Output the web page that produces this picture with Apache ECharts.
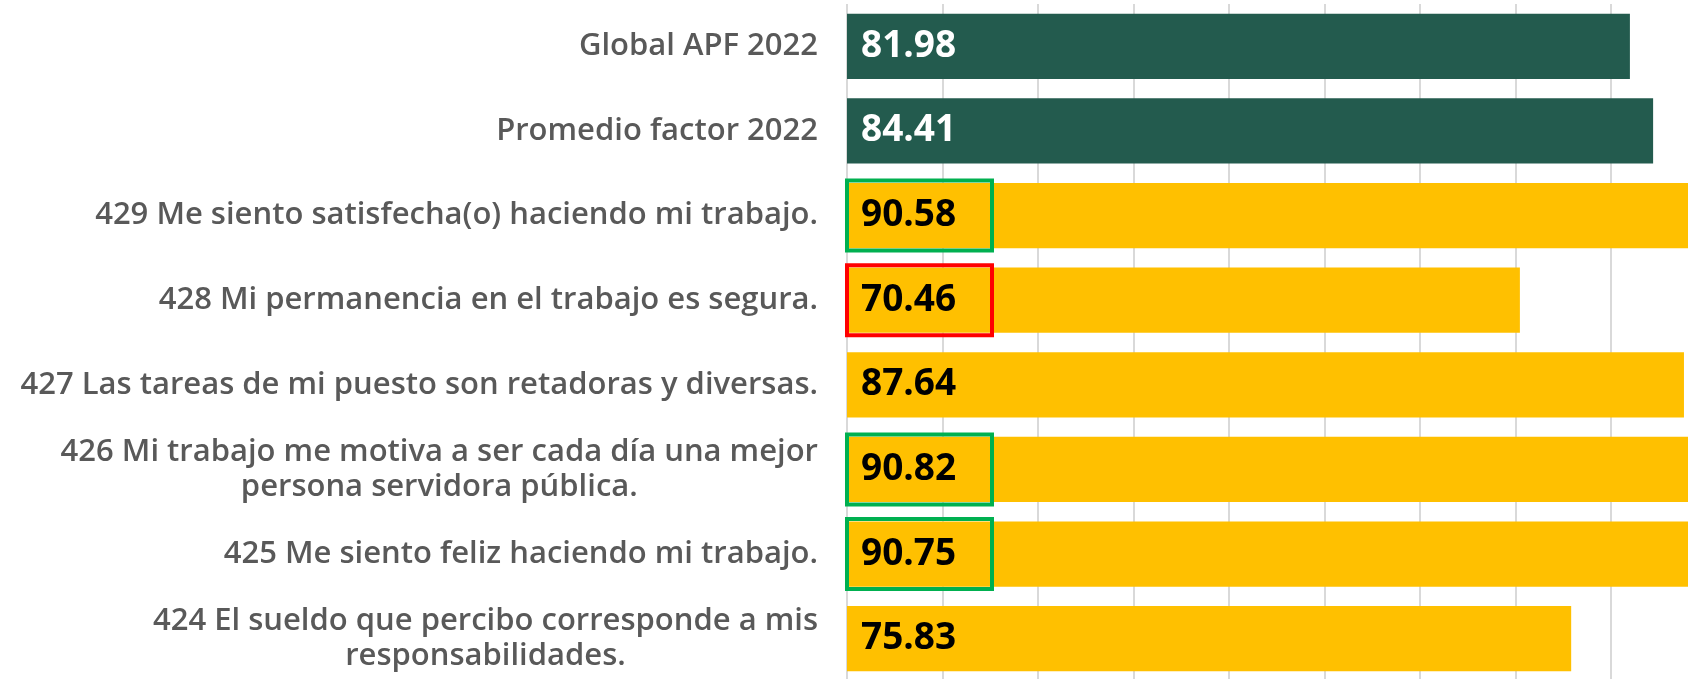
<!DOCTYPE html>
<html>
<head>
<meta charset="utf-8">
<script src="https://cdn.jsdelivr.net/npm/echarts@6/dist/echarts.min.js"></script>
<style>
  html, body { margin: 0; padding: 0; background: #ffffff; }
  #chart { width: 1688px; height: 679px; }
</style>
</head>
<body>
<div id="chart"></div>
<script>
// reactivos, de arriba hacia abajo
var categories = [
    'Global APF 2022',
    'Promedio factor 2022',
    '429 Me siento satisfecha(o) haciendo mi trabajo.',
    '428 Mi permanencia en el trabajo es segura.',
    '427 Las tareas de mi puesto son retadoras y diversas.',
    '426 Mi trabajo me motiva a ser cada día una mejor\npersona servidora pública.',
    '425 Me siento feliz haciendo mi trabajo.',
    '424 El sueldo que percibo corresponde a mis\nresponsabilidades.'
];
var values = [81.98, 84.41, 90.58, 70.46, 87.64, 90.82, 90.75, 75.83];
// tipo de barra: referencia o reactivo
var groups = ['ref', 'ref', 'item', 'item', 'item', 'item', 'item', 'item'];
// resultado destacado: alto / bajo / ninguno
var marks = ['', '', 'alto', 'bajo', '', 'alto', 'alto', ''];

var myChart = echarts.init(document.getElementById('chart'));

var barColor = { ref: '#235B4E', item: '#FFC000' };
var textColor = { ref: '#ffffff', item: '#000000' };
var markColor = { alto: '#00B050', bajo: '#FF0000' };

var seriesData = values.map(function (v, i) {
    var g = groups[i];
    return {
        value: v,
        itemStyle: { color: barColor[g] },
        label: {
            color: textColor[g],
            borderColor: marks[i] ? markColor[marks[i]] : 'transparent',
            borderWidth: marks[i] ? 4 : 0
        }
    };
});

var option = {
    animation: false,
    grid: {
        left: 847,
        width: 955,  // el eje llega a 100, fuera del lienzo
        top: 4,
        height: 677,
        outerBoundsMode: 'none',
        containLabel: false
    },
    xAxis: {
        type: 'value',
        min: 0,
        max: 100,
        interval: 10,
        axisLabel: { show: false },
        axisTick: { show: false },
        axisLine: { show: false },
        splitLine: { lineStyle: { color: '#D9D9D9', width: 2 } }
    },
    yAxis: {
        type: 'category',
        inverse: true,
        data: categories,
        axisLine: { show: false },
        axisTick: { show: false },
        axisLabel: {
            margin: 29,
            formatter: function (val) {
                return val.split('\n').map(function (s) { return '{c|' + s + '}'; }).join('\n');
            },
            rich: {
                c: {
                    align: 'center',
                    fontFamily: 'Open Sans',
                    fontWeight: 600,
                    fontSize: 31,
                    lineHeight: 35,
                    color: '#595959'
                }
            }
        }
    },
    series: [{
        type: 'bar',
        data: seriesData,
        barCategoryGap: '23%',
        label: {
            show: true,
            position: 'insideLeft',
            distance: 0,
            formatter: function (p) { return p.value.toFixed(2); },
            fontFamily: 'Open Sans',
            fontWeight: 'bold',
            fontSize: 37,
            padding: [0, 0, 0, 14],
            width: 131,
            height: 70,
            lineHeight: 70
        }
    }]
};

myChart.setOption(option);
</script>
</body>
</html>
